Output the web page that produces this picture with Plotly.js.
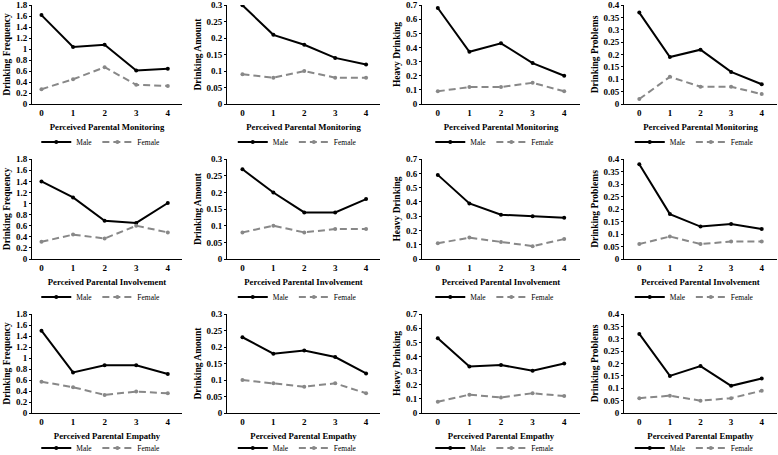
<!DOCTYPE html>
<html>
<head>
<meta charset="utf-8">
<script src="https://cdn.plot.ly/plotly-3.0.1.min.js"></script>
<style>html,body{margin:0;padding:0;background:#fff;}#chart{width:778px;height:455px;}</style>
</head>
<body>
<div id="chart"></div>
<script>
const levels = ["0", "1", "2", "3", "4"];
const rowTitles = ["Perceived Parental Monitoring", "Perceived Parental Involvement", "Perceived Parental Empathy"];
const colTitles = ["Drinking Frequency", "Drinking Amount", "Heavy Drinking", "Drinking Problems"];
const yMax = [1.8, 0.3, 0.7, 0.4];
const yStep = [0.2, 0.05, 0.1, 0.05];

// Monitoring
const monFreqMale = [1.62, 1.04, 1.08, 0.61, 0.64];
const monFreqFemale = [0.27, 0.45, 0.67, 0.35, 0.33];
const monAmtMale = [0.30, 0.21, 0.18, 0.14, 0.12];
const monAmtFemale = [0.09, 0.08, 0.10, 0.08, 0.08];
const monHeavyMale = [0.68, 0.37, 0.43, 0.29, 0.20];
const monHeavyFemale = [0.09, 0.12, 0.12, 0.15, 0.09];
const monProbMale = [0.37, 0.19, 0.22, 0.13, 0.08];
const monProbFemale = [0.02, 0.11, 0.07, 0.07, 0.04];
// Involvement
const invFreqMale = [1.40, 1.11, 0.69, 0.65, 1.01];
const invFreqFemale = [0.31, 0.44, 0.37, 0.60, 0.48];
const invAmtMale = [0.27, 0.20, 0.14, 0.14, 0.18];
const invAmtFemale = [0.08, 0.10, 0.08, 0.09, 0.09];
const invHeavyMale = [0.59, 0.39, 0.31, 0.30, 0.29];
const invHeavyFemale = [0.11, 0.15, 0.12, 0.09, 0.14];
const invProbMale = [0.38, 0.18, 0.13, 0.14, 0.12];
const invProbFemale = [0.06, 0.09, 0.06, 0.07, 0.07];
// Empathy
const empFreqMale = [1.50, 0.74, 0.87, 0.87, 0.71];
const empFreqFemale = [0.57, 0.47, 0.33, 0.39, 0.36];
const empAmtMale = [0.23, 0.18, 0.19, 0.17, 0.12];
const empAmtFemale = [0.10, 0.09, 0.08, 0.09, 0.06];
const empHeavyMale = [0.53, 0.33, 0.34, 0.30, 0.35];
const empHeavyFemale = [0.08, 0.13, 0.11, 0.14, 0.12];
const empProbMale = [0.32, 0.15, 0.19, 0.11, 0.14];
const empProbFemale = [0.06, 0.07, 0.05, 0.06, 0.09];

const male = [
  [monFreqMale, monAmtMale, monHeavyMale, monProbMale],
  [invFreqMale, invAmtMale, invHeavyMale, invProbMale],
  [empFreqMale, empAmtMale, empHeavyMale, empProbMale]
];
const female = [
  [monFreqFemale, monAmtFemale, monHeavyFemale, monProbFemale],
  [invFreqFemale, invAmtFemale, invHeavyFemale, invProbFemale],
  [empFreqFemale, empAmtFemale, empHeavyFemale, empProbFemale]
];

const W = 778, H = 455;
const colPx = [[32, 182], [227, 380], [422, 580], [624, 777]];
const rowPx = [[5, 104], [159, 259], [314, 413]];
const legendPx = [142, 297, 448];
const xRanges = [[-0.3, 4.45], [-0.5, 4.45], [-0.5, 4.5], [-0.5, 4.5]];

const fam = "Liberation Serif, Times New Roman, serif";
const traces = [];
const layout = {
  width: W, height: H,
  margin: {l: 0, r: 0, t: 0, b: 0, autoexpand: false},
  paper_bgcolor: "#fff", plot_bgcolor: "#fff",
  font: {family: fam, color: "#000"},
  showlegend: true
};

let n = 0;
for (let r = 0; r < 3; r++) {
  for (let c = 0; c < 4; c++) {
    n++;
    const sfx = n === 1 ? "" : String(n);
    const legName = "legend" + sfx;
    traces.push({
      x: levels.map(Number), y: male[r][c], type: "scatter", mode: "lines+markers",
      name: "Male", xaxis: "x" + sfx, yaxis: "y" + sfx, legend: legName,
      line: {color: "#000", width: 2}, marker: {color: "#000", size: 4}
    });
    traces.push({
      x: levels.map(Number), y: female[r][c], type: "scatter", mode: "lines+markers",
      name: "Female", xaxis: "x" + sfx, yaxis: "y" + sfx, legend: legName,
      line: {color: "#888888", width: 2, dash: "7px,4px"}, marker: {color: "#888888", size: 4}
    });
    const ticks = [];
    for (let k = 0; k * yStep[c] <= yMax[c] + 1e-9; k++) ticks.push(+(k * yStep[c]).toFixed(2));
    layout["xaxis" + sfx] = {
      domain: [colPx[c][0] / W, colPx[c][1] / W],
      anchor: "y" + sfx,
      range: xRanges[c],
      tickvals: levels.map(Number), ticktext: levels,
      showgrid: false, zeroline: false,
      showline: true, linecolor: "#000", linewidth: 1,
      ticks: "", tickfont: {family: fam, size: 9, color: "#000", weight: "bold"},
      title: {text: rowTitles[r], font: {family: fam, size: 8.7, color: "#000", weight: "bold"}, standoff: 7}
    };
    layout["yaxis" + sfx] = {
      domain: [1 - rowPx[r][1] / H, 1 - rowPx[r][0] / H],
      anchor: "x" + sfx,
      range: [0, yMax[c] * 1.002],
      tickvals: ticks, ticktext: ticks.map(String),
      showgrid: false, zeroline: false,
      showline: true, linecolor: "#000", linewidth: 1,
      ticks: "outside", ticklen: 2, tickcolor: "#000",
      tickfont: {family: fam, size: 9, color: "#000", weight: "bold"},
      title: {text: colTitles[c], font: {family: fam, size: 9.5, color: "#000", weight: "bold"}, standoff: 3}
    };
    layout[legName] = {
      orientation: "h",
      x: (colPx[c][0] + colPx[c][1]) / 2 / W - 0.008, xanchor: "center",
      y: 1 - legendPx[r] / H, yanchor: "middle",
      font: {family: fam, size: 7.5, color: "#000"},
      bgcolor: "rgba(0,0,0,0)", itemwidth: 30, tracegroupgap: 0
    };
  }
}

Plotly.newPlot("chart", traces, layout, {displayModeBar: false, staticPlot: true});
</script>
</body>
</html>
